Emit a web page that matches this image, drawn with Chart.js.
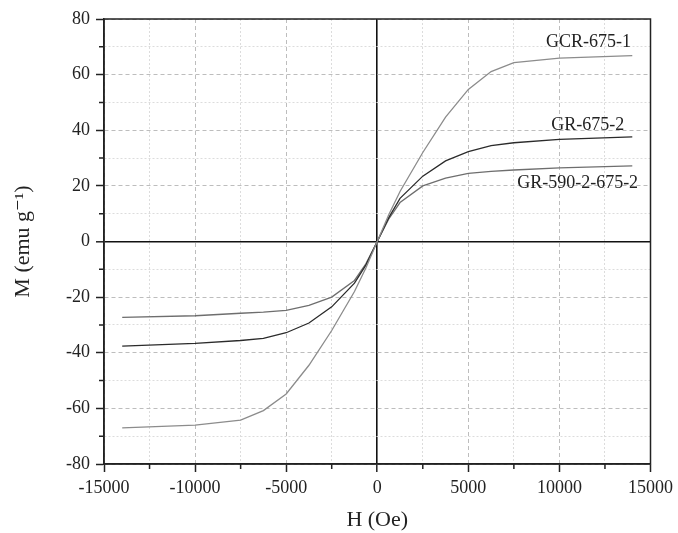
<!DOCTYPE html>
<html>
<head>
<meta charset="utf-8">
<script src="https://cdn.jsdelivr.net/npm/chart.js@4"></script>
<style>
  html, body { margin: 0; padding: 0; background: #fff; }
  #wrap { width: 678px; height: 533px; }
</style>
</head>
<body>
<div id="wrap"><canvas id="chart" width="678" height="533"></canvas></div>
<script>
const fieldH = [-14000, -10000, -7500, -6250, -5000, -3750, -2500, -1250, -625, 0, 625, 1250, 2500, 3750, 5000, 6250, 7500, 10000, 14000];
const gcr675 = [-67.0, -66.0, -64.2, -60.8, -54.8, -44.5, -32.0, -18.0, -9.5, 0, 9.5, 18.0, 32.0, 44.7, 54.7, 61.1, 64.3, 65.9, 66.8];
const gr675 = [-37.6, -36.6, -35.6, -34.8, -32.8, -29.3, -23.5, -15.0, -8.5, 0, 8.5, 15.5, 23.5, 29.0, 32.3, 34.5, 35.5, 36.7, 37.6];
const gr590 = [-27.3, -26.7, -25.8, -25.4, -24.8, -23.0, -20.0, -14.0, -8.0, 0, 8.0, 14.0, 20.0, 22.8, 24.5, 25.2, 25.7, 26.5, 27.2];

const seriesNames = ["GCR-675-1", "GR-675-2", "GR-590-2-675-2"];
// label anchor (data coords) for each curve name
const labelH = [11600, 11550, 11000];
const labelM = [71.8, 41.9, 21.0];

const colors = ["#8c8c8c", "#2b2b2b", "#6e6e6e"];
const serif = "'Liberation Serif', 'DejaVu Serif', serif";

const toPoints = vals => fieldH.map((h, i) => ({x: h, y: vals[i]}));

const datasets = [gcr675, gr675, gr590].map((vals, i) => ({
    label: seriesNames[i],
    data: toPoints(vals),
    showLine: true,
    borderColor: colors[i],
    borderWidth: 1.3,
    pointRadius: 0,
    tension: 0,
}));

// frame on top/right, short minor ticks, curve names
const extras = {
    id: "extras",
    afterDraw(chart) {
        const {ctx, chartArea: a, scales: {x, y}} = chart;
        ctx.save();
        ctx.strokeStyle = "#222";
        ctx.lineWidth = 1.5;
        ctx.strokeRect(a.left, a.top, a.right - a.left, a.bottom - a.top);

        ctx.beginPath();
        x.ticks.filter(t => t.value % 5000 !== 0).forEach(t => {
            const px = x.getPixelForValue(t.value);
            ctx.moveTo(px, a.bottom);
            ctx.lineTo(px, a.bottom + 5);
        });
        y.ticks.filter(t => t.value % 20 !== 0).forEach(t => {
            const py = y.getPixelForValue(t.value);
            ctx.moveTo(a.left, py);
            ctx.lineTo(a.left - 5, py);
        });
        ctx.stroke();

        ctx.fillStyle = "#222";
        ctx.font = "18px " + serif;
        ctx.textAlign = "center";
        ctx.textBaseline = "middle";
        seriesNames.forEach((n, i) => {
            ctx.fillText(n, x.getPixelForValue(labelH[i]), y.getPixelForValue(labelM[i]));
        });
        ctx.restore();
    }
};

const gridOpts = (major) => ({
    color: c => c.tick && c.tick.value === 0 ? "#111" : (c.tick && c.tick.value % major === 0 ? "#bdbdbd" : "#dcdcdc"),
    lineWidth: c => c.tick && c.tick.value === 0 ? 1.6 : 1,
    tickColor: c => c.tick && c.tick.value % major === 0 ? "#222" : "rgba(0,0,0,0)",
    tickWidth: 1.5,
    tickLength: 8,
});

const borderOpts = (major) => ({
    color: "#222",
    width: 1.5,
    dash: c => {
        if (!c.tick) return [];
        if (c.tick.value === 0) return [];
        return c.tick.value % major === 0 ? [4, 3] : [2, 2];
    },
});

new Chart(document.getElementById("chart"), {
    type: "scatter",
    data: {datasets},
    options: {
        responsive: false,
        animation: false,
        layout: {padding: {top: 19, right: 26, left: 0, bottom: 0}},
        plugins: {
            legend: {display: false},
            tooltip: {enabled: false},
        },
        scales: {
            x: {
                type: "linear",
                min: -15000,
                max: 15000,
                afterFit: s => { s.height = 69; },
                ticks: {
                    stepSize: 2500,
                    autoSkip: false,
                    maxRotation: 0,
                    padding: 5,
                    color: "#222",
                    font: {family: serif, size: 18},
                    callback: v => v % 5000 === 0 ? String(v) : "",
                },
                grid: gridOpts(5000),
                border: borderOpts(5000),
                title: {
                    display: true,
                    text: "H (Oe)",
                    color: "#222",
                    font: {family: serif, size: 22},
                    padding: {top: 9, bottom: 0},
                },
            },
            y: {
                type: "linear",
                min: -80,
                max: 80,
                afterFit: s => { s.width = 104; },
                ticks: {
                    stepSize: 10,
                    autoSkip: false,
                    padding: 6,
                    color: "#222",
                    font: {family: serif, size: 18},
                    callback: v => v % 20 === 0 ? String(v) : "",
                },
                grid: gridOpts(20),
                border: borderOpts(20),
                title: {
                    display: true,
                    text: "M (emu g\u207B\u00B9)",
                    color: "#222",
                    font: {family: serif, size: 22},
                    padding: {top: 10, bottom: 4},
                },
            },
        },
    },
    plugins: [extras],
});
</script>
</body>
</html>
